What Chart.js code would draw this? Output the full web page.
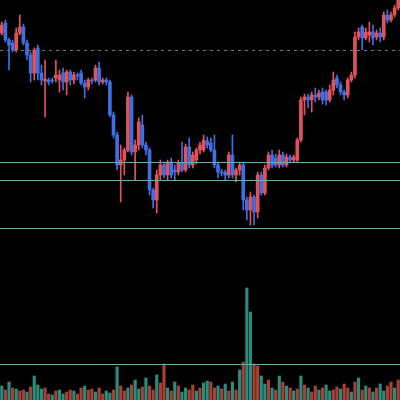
<!DOCTYPE html>
<html>
<head>
<meta charset="utf-8">
<script src="https://cdn.jsdelivr.net/npm/chart.js@4/dist/chart.umd.min.js"></script>
<style>
  html, body { margin: 0; padding: 0; background: #000; }
  #wrap { width: 400px; height: 400px; }
</style>
</head>
<body>
<div id="wrap"><canvas id="chart"></canvas></div>
<script>
// candle data (price units, hand)
const opens = [367,377,360,357,350,367,373,357,345,327,352,327,319,320,320,322,320,327,318,328,320,325,327,317,313,320,320,332,318,320,
  318,285,265,235,240,250,303,248,255,275,255,250,210,200,225,235,225,238,230,228,237,230,253,235,240,250,250,259,257,250,
  235,228,228,225,245,225,230,235,200,190,203,188,225,207,232,245,242,235,245,235,243,240,240,260,300,303,300,305,303,308,
  308,300,310,322,315,308,305,320,325,363,373,362,365,368,363,367,363,385,380,385,392];
const closes = [375,360,355,350,367,373,357,345,327,350,327,320,321,318,319,325,325,318,328,320,325,324,317,313,320,319,332,318,320,318,
  285,265,235,240,250,303,248,255,278,255,250,210,200,225,235,225,238,225,228,237,230,253,235,245,250,255,260,255,250,235,
  228,227,225,245,225,230,235,200,190,203,188,225,207,232,245,235,235,245,235,243,240,243,260,300,303,300,305,303,307,300,
  300,310,320,315,308,305,320,325,363,368,362,368,368,362,367,363,385,380,385,392,400];
const highs = [378,380,362,360,372,385,376,360,348,352,355,335,340,322,322,340,330,332,330,330,328,327,330,320,322,322,335,338,322,322,
  320,288,268,255,252,308,305,260,282,285,258,252,212,230,240,238,240,242,235,240,258,256,262,248,252,258,265,263,262,265,
  238,231,230,248,265,232,238,238,203,208,205,228,228,235,248,250,246,250,248,246,245,245,262,303,306,306,308,312,310,312,
  310,315,328,325,318,310,322,328,368,372,375,372,378,375,370,372,388,390,388,395,405];
const lows = [365,358,330,348,348,365,355,340,318,320,320,315,283,315,317,318,308,310,305,315,316,320,315,302,310,316,318,315,316,315,
  283,262,230,198,225,248,245,220,250,252,245,205,192,187,220,222,220,222,220,225,228,228,232,232,236,246,248,252,248,232,
  222,224,220,222,222,218,225,190,180,175,175,182,205,205,230,232,233,232,233,233,238,238,238,258,285,292,288,298,300,296,
  295,298,305,312,305,300,302,318,322,360,350,360,358,355,360,358,360,377,378,383,390];
const volumes = [14,10,18,12,11,9,10,8,13,24,15,11,12,6,5,9,10,6,8,10,9,6,12,14,10,11,8,12,6,9,
  7,10,33,14,9,12,15,20,11,13,22,14,10,25,17,36,12,9,18,14,8,12,10,15,9,12,17,19,18,12,
  14,11,16,9,18,10,30,38,112,88,36,34,24,16,20,12,10,24,18,14,12,9,11,24,15,12,8,14,10,12,
  15,9,10,13,11,16,12,8,18,22,10,14,12,8,12,16,9,14,18,12,20];
// volume bar direction: g = teal, r = red
const volumeDirs = ("grgrgrrgrgggrrgrggrrgrrgrrgrrg" + "grgrrgrggrgrrgrrgrgrggrrgrggrr" +
  "grgrgrgrggrrggrgrgrgrgrgrgrrgrg" + "grrgrrgrgrgrgrggrrgr").split("");
const priceLevels = [238, 220, 172];
const dashedLevel = 350;
const volumeLevel = 36;

const labels = opens.map((_, i) => i);
const upColor = "#e0525c";
const downColor = "#3f6fe3";
const candleColors = opens.map((o, i) => (closes[i] >= o ? upColor : downColor));
const volumeColors = volumeDirs.map((d) => (d === "g" ? "#2c8c7c" : "#a8403a"));

const levelLines = {
  id: "levelLines",
  afterDatasetsDraw(chart) {
    const { ctx, chartArea, scales } = chart;
    ctx.save();
    ctx.lineWidth = 1;
    ctx.strokeStyle = "#6fa8a8";
    const hline = (y) => {
      ctx.beginPath();
      ctx.moveTo(chartArea.left, y + 0.5);
      ctx.lineTo(chartArea.right, y + 0.5);
      ctx.stroke();
    };
    priceLevels.forEach((v) => hline(Math.round(scales.price.getPixelForValue(v))));
    hline(Math.round(scales.volume.getPixelForValue(volumeLevel)));
    ctx.strokeStyle = "#777";
    ctx.setLineDash([3, 4]);
    hline(Math.round(scales.price.getPixelForValue(dashedLevel)));
    ctx.restore();
  },
};

new Chart(document.getElementById("chart"), {
  type: "bar",
  data: {
    labels: labels,
    datasets: [
      {
        label: "volume",
        yAxisID: "volume",
        data: volumes,
        backgroundColor: volumeColors,
        barThickness: 2.5,
        grouped: false,
        order: 3,
      },
      {
        label: "wick",
        yAxisID: "price",
        data: lows.map((l, i) => [l, highs[i]]),
        backgroundColor: candleColors,
        barThickness: 1,
        grouped: false,
        order: 2,
      },
      {
        label: "body",
        yAxisID: "price",
        data: opens.map((o, i) => [o, closes[i]]),
        backgroundColor: candleColors,
        barThickness: 3,
        minBarLength: 1,
        grouped: false,
        order: 1,
      },
    ],
  },
  options: {
    responsive: true,
    maintainAspectRatio: false,
    animation: false,
    layout: { padding: 0 },
    scales: {
      x: { display: false, offset: true },
      price: { display: false, min: 0, max: 400 },
      volume: { display: false, min: 0, max: 400 },
    },
    plugins: { legend: { display: false }, tooltip: { enabled: false } },
  },
  plugins: [levelLines],
});
</script>
</body>
</html>
